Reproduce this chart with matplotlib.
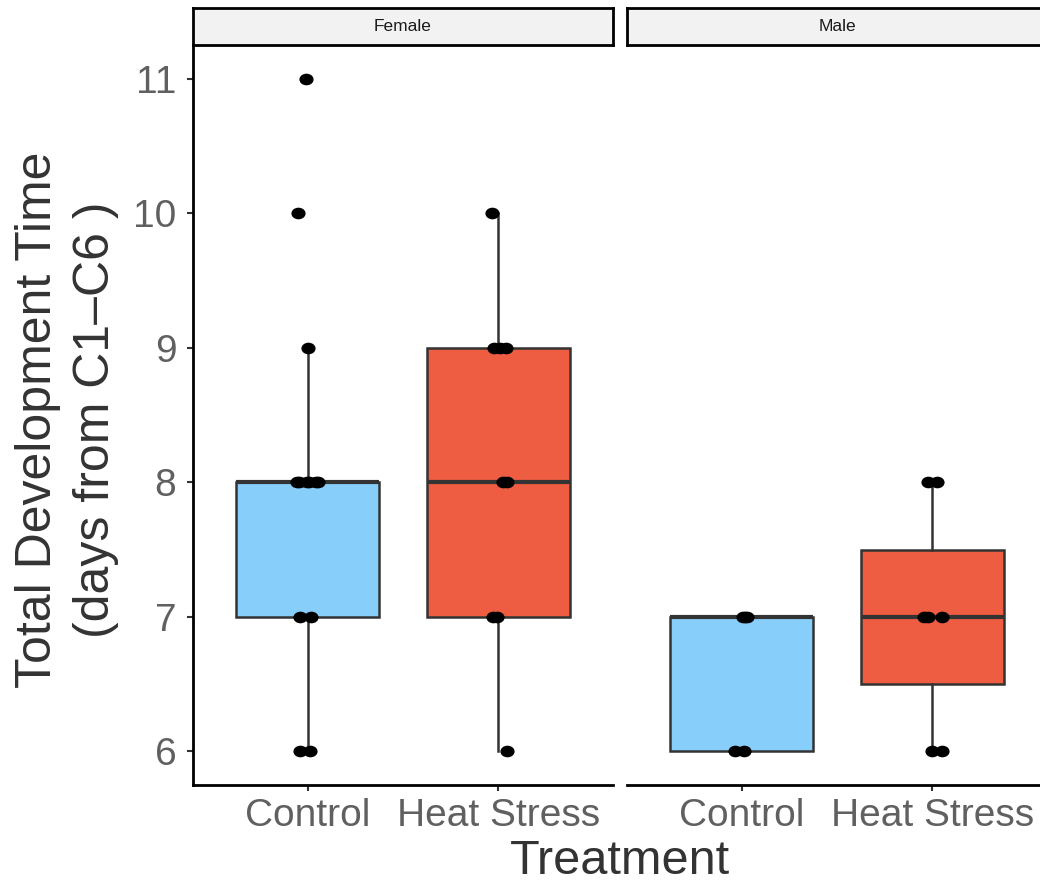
import numpy as np
import matplotlib
matplotlib.use('Agg')
import matplotlib.pyplot as plt
from matplotlib.path import Path

plt.rcParams['font.family'] = ['Liberation Sans', 'DejaVu Sans']

# data
sexes = ['Female', 'Male']
treatments = ['Control', 'Heat Stress']
box_colors = ['#87CEFA', '#EE5C42']

female_control = [11, 10, 9, 8, 8, 8, 8, 8, 8, 7, 7, 6, 6]
female_control_jitter = [-0.01, -0.05, 0.0, -0.055, -0.045, -0.005, 0.005, 0.045, 0.055,
                         -0.04, 0.02, -0.04, 0.015]
female_heat = [10, 9, 9, 9, 8, 8, 7, 7, 6]
female_heat_jitter = [-0.035, -0.025, 0.01, 0.04, 0.025, 0.045, -0.03, -0.01, 0.045]

male_control = [7, 7, 7, 6, 6]
male_control_jitter = [0.008, 0.018, 0.028, -0.035, 0.013]
male_heat = [8, 8, 7, 7, 7, 6, 6]
male_heat_jitter = [-0.023, 0.024, -0.044, -0.023, 0.05, -0.002, 0.05]

groups = {
    'Female': [(female_control, female_control_jitter), (female_heat, female_heat_jitter)],
    'Male': [(male_control, male_control_jitter), (male_heat, male_heat_jitter)],
}

y_ticks = [6, 7, 8, 9, 10, 11]

# slightly wide dot, like the reference
circ = Path.unit_circle()
dot = Path(circ.vertices * np.array([1.0, 0.8]), circ.codes)

fig = plt.figure(figsize=(10.4, 8.84), dpi=100)

W, H = 1040, 884
panel_left = [193, 627]
panel_w = 420
panel_top, panel_bottom = 45, 785
strip_top = 8

tick_grey = '#606060'
line_grey = '#333333'

for i, sex in enumerate(sexes):
    ax = fig.add_axes([panel_left[i] / W, (H - panel_bottom) / H,
                       panel_w / W, (panel_bottom - panel_top) / H])
    positions = [1, 2]
    data = [g[0] for g in groups[sex]]
    bp = ax.boxplot(data, positions=positions, widths=0.75, patch_artist=True,
                    showfliers=False, showcaps=False,
                    boxprops=dict(edgecolor=line_grey, linewidth=1.8),
                    whiskerprops=dict(color=line_grey, linewidth=1.8),
                    medianprops=dict(color=line_grey, linewidth=3.0, solid_capstyle='butt'))
    for patch, c in zip(bp['boxes'], box_colors):
        patch.set_facecolor(c)

    for pos, (vals, jit) in zip(positions, groups[sex]):
        xs = pos + np.array(jit)
        ax.plot(xs, vals, linestyle='none', marker=dot, markersize=9.2,
                color='black', zorder=5)

    ax.set_xlim(0.4, 2.6)
    ax.set_ylim(5.75, 11.25)
    ax.set_xticks(positions)
    ax.set_xticklabels(treatments)
    ax.set_yticks(y_ticks)
    ax.tick_params(axis='both', labelsize=28, labelcolor=tick_grey, color=line_grey,
                   length=4, width=1.5)
    ax.tick_params(axis='x', pad=5)
    ax.tick_params(axis='y', pad=8)

    for s in ['top', 'right']:
        ax.spines[s].set_visible(False)
    ax.spines['bottom'].set_linewidth(2)
    ax.spines['left'].set_linewidth(2)
    if i > 0:
        ax.spines['left'].set_visible(False)
        ax.tick_params(axis='y', left=False, labelleft=False)

    # facet strip
    sax = fig.add_axes([panel_left[i] / W, (H - panel_top) / H,
                        panel_w / W, (panel_top - strip_top) / H])
    sax.set_facecolor('#F2F2F2')
    sax.set_xticks([])
    sax.set_yticks([])
    for s in sax.spines.values():
        s.set_linewidth(2)
        s.set_color('black')
    sax.text(0.5, 0.5, sex, ha='center', va='center', fontsize=12.5,
             color='#1A1A1A', transform=sax.transAxes)

fig.text(620 / W, (H - 862) / H, 'Treatment', ha='center', va='center', fontsize=35,
         color='#333333')
fig.text(67 / W, (H - 420) / H, 'Total Development Time\n(days from C1\u2013C6 )',
         ha='center', va='center', rotation=90, fontsize=36, color='#333333',
         linespacing=1.35, multialignment='center')

fig.savefig('out.png', dpi=100)
